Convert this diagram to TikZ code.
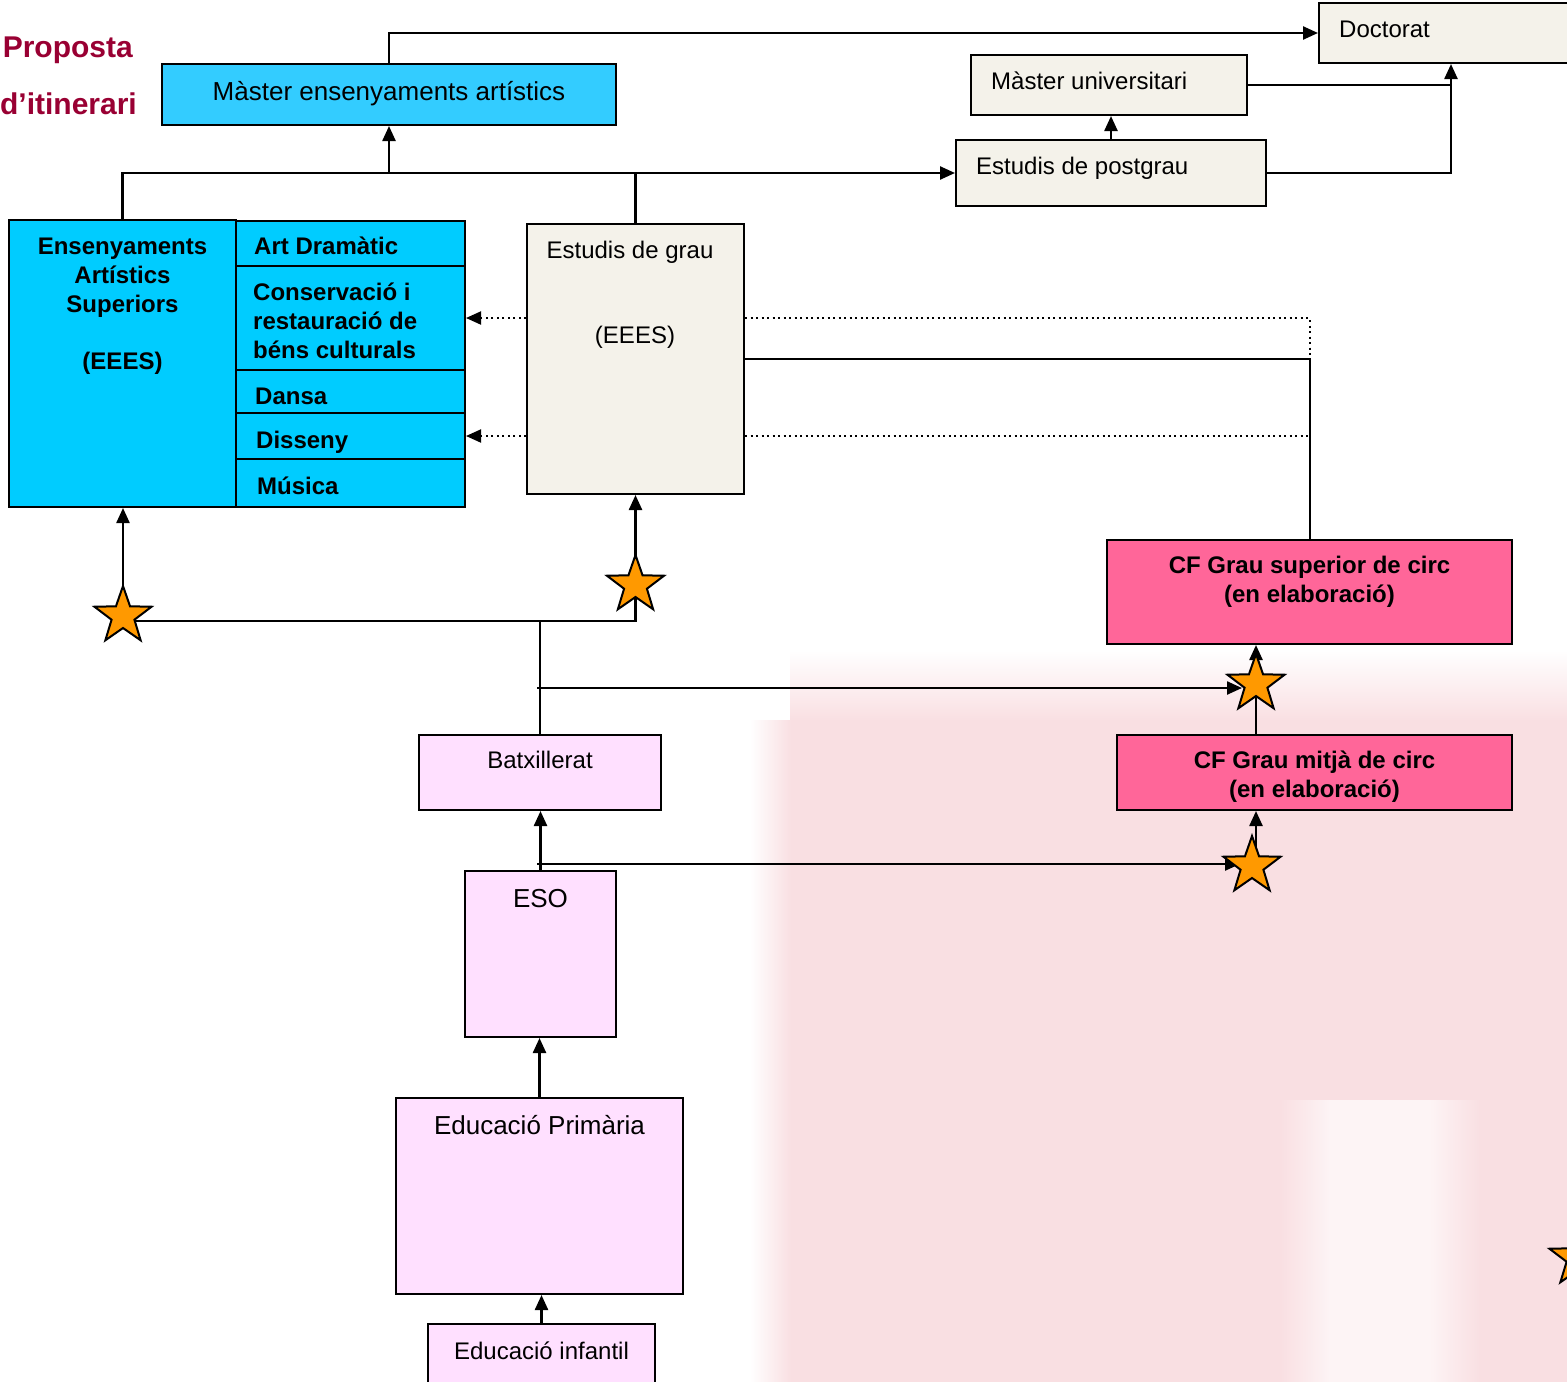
\documentclass[tikz,border=0pt]{standalone}
\usepackage{fontspec}
\setmainfont{Liberation Sans}
\usetikzlibrary{arrows.meta,shapes.geometric}
\definecolor{mblue}{HTML}{33CCFF}
\definecolor{cblue}{HTML}{00CCFF}
\definecolor{beige}{HTML}{F4F2EA}
\definecolor{cfpink}{HTML}{FF6699}
\definecolor{lpink}{HTML}{FFE0FF}
\definecolor{starorange}{HTML}{FF9900}
\definecolor{titlered}{HTML}{990033}
\definecolor{wmpink}{HTML}{F9DFE2}
\begin{document}
\begin{tikzpicture}[x=1pt,y=-1pt,
  box/.style={draw=black, line width=2pt, inner sep=0pt, rectangle},
  conn/.style={draw=black, line width=2.4pt},
  dotline/.style={draw=black, line width=2pt, dash pattern=on 2pt off 3.5pt},
  tip/.style={-{Triangle[length=15pt,width=13pt]}},
  starn/.style={star, star points=5, star point ratio=2.5, draw=black, line width=2pt, fill=starorange, minimum size=60pt, inner sep=0pt},
  reg/.style={font=\fontsize{24}{29}\selectfont, inner sep=0pt},
  big/.style={font=\fontsize{26}{31}\selectfont, inner sep=0pt},
  bld/.style={font=\fontsize{24}{29}\selectfont\bfseries, inner sep=0pt},
  ttl/.style={font=\fontsize{30}{36}\selectfont\bfseries, text=titlered, inner sep=0pt},
]
\fill[white] (0,0) rectangle (1567,1382);
\useasboundingbox (0,0) rectangle (1567,1382);

% faint background watermark (blurred logo)
\fill[wmpink] (790,720) rectangle (1567,1382);
\shade[top color=white, bottom color=wmpink] (790,650) rectangle (1567,721);
\shade[left color=white, right color=wmpink] (750,720) rectangle (791,1382);
\shade[left color=wmpink, right color=white!65!wmpink] (1280,1100) rectangle (1330,1382);
\fill[white!65!wmpink] (1329,1100) rectangle (1431,1382);
\shade[left color=white!65!wmpink, right color=wmpink] (1430,1100) rectangle (1480,1382);

% title
\node[ttl, anchor=base east] (t1) at (133,57) {Proposta};
\node[ttl, anchor=base east] (t2) at (137,114) {d’itinerari};

% boxes
\node[box, fill=mblue, minimum width=454pt, minimum height=61pt] (mea) at (389,94.5) {};
\node[box, fill=beige, minimum width=261pt, minimum height=60pt] (doc) at (1449.5,33) {};
\node[box, fill=beige, minimum width=276pt, minimum height=60pt] (mu) at (1109,85) {};
\node[box, fill=beige, minimum width=310pt, minimum height=66pt] (pg) at (1111,173) {};
\node[box, fill=cblue, minimum width=227pt, minimum height=287pt] (eas) at (122.5,363.5) {};
\node[box, fill=cblue, minimum width=229pt, minimum height=45pt] (ad) at (350.5,243.5) {};
\node[box, fill=cblue, minimum width=229pt, minimum height=104pt] (cr) at (350.5,318) {};
\node[box, fill=cblue, minimum width=229pt, minimum height=43pt] (da) at (350.5,391.5) {};
\node[box, fill=cblue, minimum width=229pt, minimum height=46pt] (di) at (350.5,436) {};
\node[box, fill=cblue, minimum width=229pt, minimum height=48pt] (mus) at (350.5,483) {};
\node[box, fill=beige, minimum width=217pt, minimum height=270pt] (eg) at (635.5,359) {};
\node[box, fill=cfpink, minimum width=405pt, minimum height=104pt] (cfs) at (1309.5,592) {};
\node[box, fill=cfpink, minimum width=395pt, minimum height=75pt] (cfm) at (1314.5,772.5) {};
\node[box, fill=lpink, minimum width=242pt, minimum height=75pt] (bat) at (540,772.5) {};
\node[box, fill=lpink, minimum width=151pt, minimum height=166pt] (eso) at (540.5,954) {};
\node[box, fill=lpink, minimum width=287pt, minimum height=196pt] (pri) at (539.5,1196) {};
\node[box, fill=lpink, minimum width=227pt, minimum height=76pt] (inf) at (541.5,1362) {};

% texts
\node[big] (tmea) at (389,94) {Màster ensenyaments artístics};
\node[reg, anchor=base west] (tdoc) at (1339,37) {Doctorat};
\node[reg, anchor=base west] (tmu) at (991,89) {Màster universitari};
\node[reg, anchor=base west] (tpg) at (976,174) {Estudis de postgrau};
\node[bld, anchor=base] (teas1) at (122.5,254) {Ensenyaments};
\node[bld, anchor=base] (teas2) at (122.5,283) {Artístics};
\node[bld, anchor=base] (teas3) at (122.5,312) {Superiors};
\node[bld, anchor=base] (teas4) at (122.5,369) {(EEES)};
\node[bld, anchor=base west] (tad) at (254,254) {Art Dramàtic};
\node[bld, anchor=base west] (tcr1) at (253,300) {Conservació i};
\node[bld, anchor=base west] (tcr2) at (253,329) {restauració de};
\node[bld, anchor=base west] (tcr3) at (253,358) {béns culturals};
\node[bld, anchor=base west] (tda) at (255,404) {Dansa};
\node[bld, anchor=base west] (tdi) at (256,448) {Disseny};
\node[bld, anchor=base west] (tmus) at (257,494) {Música};
\node[reg, anchor=base] (teg1) at (630,258) {Estudis de grau};
\node[reg, anchor=base] (teg2) at (635,343) {(EEES)};
\node[bld, anchor=base] (tcfs1) at (1309.5,573.5) {CF Grau superior de circ};
\node[bld, anchor=base] (tcfs2) at (1309.5,602.5) {(en elaboració)};
\node[bld, anchor=base] (tcfm1) at (1314.5,768.5) {CF Grau mitjà de circ};
\node[bld, anchor=base] (tcfm2) at (1314.5,797.5) {(en elaboració)};
\node[reg, anchor=base] (tbat) at (540,768.5) {Batxillerat};
\node[big, anchor=base] (teso) at (540.5,907.5) {ESO};
\node[big, anchor=base] (tpri) at (539.5,1134.5) {Educació Primària};
\node[reg, anchor=base] (tinf) at (541.5,1359) {Educació infantil};

% coordinates
\coordinate (j1) at (1451,85);
\coordinate (s1c) at (123,616);
\coordinate (s2c) at (635.5,585);
\coordinate (s3c) at (1256,684);
\coordinate (s4c) at (1252,866);
\coordinate (s5c) at (1578,1258);
\coordinate (j2) at (540,621);
\coordinate (j3) at (537,688);
\coordinate (j4) at (537,864);

% top connectors
\draw[conn, tip] (mea.north) |- (doc.west);
\draw[conn] (mu.east) -- (mu.east -| j1);
\draw[conn, tip] (pg.east) -| (j1 |- doc.south);
\draw[conn, tip] (pg.north) -- (pg.north |- mu.south);
\draw[conn, tip] (eas.north) |- (pg.west);
\draw[conn] (eg.north) -- (eg.north |- pg.west);
\draw[conn, tip] (mea.south |- pg.west) -- (mea.south);

% dotted
\draw[dotline, tip] (eg.west |- cr.east) -- (cr.east);
\draw[dotline, tip] (eg.west |- di.east) -- (di.east);
\draw[dotline] (eg.east |- cr.east) -| (cfs.north);
\draw[dotline] (eg.east |- di.east) -- (di.east -| cfs.north);
\draw[draw=black, line width=2pt] (eg.east) -| (cfs.north);

% lower connectors
\draw[conn, tip] (s1c) -- (s1c |- eas.south);
\draw[conn] (s1c |- j2) -- (j2) -- (bat.north);
\draw[conn] (j2) -| (s2c);
\draw[conn, tip] (s2c) -- (eg.south);
\draw[conn, tip, shorten >=14pt] (j3) -- (j3 -| s3c);
\draw[conn, tip] (s3c) -- (s3c |- cfs.south);
\draw[conn] (s3c |- cfm.north) -- (s3c);
\draw[conn, tip] (eso.north) -- (eso.north |- bat.south);
\draw[conn, tip, shorten >=12pt] (j4) -- (j4 -| s4c);
\draw[conn, tip] (s3c |- s4c) -- (s3c |- cfm.south);
\draw[conn, tip] (pri.north) -- (pri.north |- eso.south);
\draw[conn, tip] (inf.north) -- (inf.north |- pri.south);

% stars
\node[starn] (s1) at (s1c) {};
\node[starn] (s2) at (s2c) {};
\node[starn] (s3) at (s3c) {};
\node[starn] (s4) at (s4c) {};
\node[starn] (s5) at (s5c) {};
\end{tikzpicture}
\end{document}
